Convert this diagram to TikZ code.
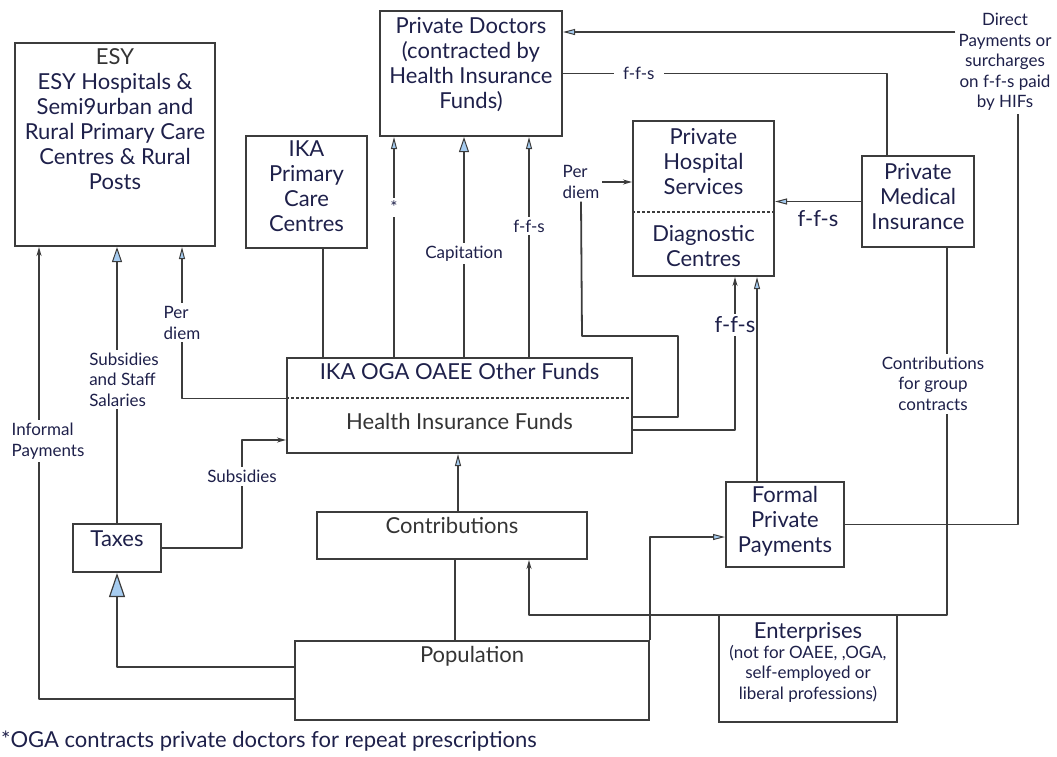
\documentclass[tikz,border=0pt]{standalone}
\usepackage{fontspec}
\setmainfont{Lato}
\usepackage{tikz}
\usetikzlibrary{arrows.meta, positioning}
\usepackage{xcolor}
\definecolor{Ink}{RGB}{30, 32, 74}
\definecolor{Heading}{RGB}{52, 52, 52}
\definecolor{Wire}{RGB}{60, 60, 60}
\definecolor{LiteBlue}{RGB}{166, 204, 240}
\newcommand{\boxfont}{\fontsize{22}{25}\selectfont}
\newcommand{\notefont}{\fontsize{17}{20.5}\selectfont}
\tikzset{%
  panel/.style={%
    rectangle,%
    draw=Wire,%
    line width=2pt,%
    inner sep=0pt,%
  },
  panel_text/.style={%
    color=Ink,%
    font={\boxfont},%
    align=center,%
    inner sep=1pt,%
  },
  panel_title/.style={%
    panel_text,%
    color=Heading,%
  },
  note/.style={%
    color=Ink,%
    font={\notefont},%
    align=center,%
    fill=white,%
    inner sep=3pt,%
  },
  big_note/.style={%
    note,%
    font={\boxfont},%
  },
  wire/.style={%
    color=Wire,%
    line width=1.8pt,%
    line join=round,%
  },
  divider/.style={%
    color=Wire,%
    line width=1.2pt,%
    dash pattern=on 3pt off 2pt,%
  },
  blue_tip/.style={-{Triangle[length=12pt, width=6pt, fill=LiteBlue, line width=1pt]}},
  wide_tip/.style={-{Triangle[length=15pt, width=10pt, fill=LiteBlue, line width=1pt]}},
  big_tip/.style={-{Triangle[length=24pt, width=16pt, fill=LiteBlue, line width=1.2pt]}},
  dark_tip/.style={-{Stealth[length=9pt, width=5pt]}},
}

\begin{document}
\begin{tikzpicture}[x=1pt, y=-1pt]

    \useasboundingbox (0, 0) rectangle (1057, 756);

    \node [panel, minimum width=200pt, minimum height=203pt] (ESY) at (115, 144.5) {};
    \node [panel, minimum width=121pt, minimum height=112pt] (IKAcare) at (306.5, 192) {};
    \node [panel, minimum width=182pt, minimum height=125pt] (Doctors) at (471, 73.5) {};
    \node [panel, minimum width=141pt, minimum height=155pt] (Hospital) at (703.5, 198.5) {};
    \node [panel, minimum width=112pt, minimum height=91pt] (MedIns) at (918, 201.5) {};
    \node [panel, minimum width=345pt, minimum height=95pt] (Funds) at (459.5, 405.5) {};
    \node [panel, minimum width=270pt, minimum height=47pt] (Contrib) at (452, 535.5) {};
    \node [panel, minimum width=354pt, minimum height=79pt] (Population) at (472, 680.5) {};
    \node [panel, minimum width=88pt, minimum height=48pt] (Taxes) at (117, 548) {};
    \node [panel, minimum width=118pt, minimum height=85pt] (Formal) at (785, 524.5) {};
    \node [panel, minimum width=178pt, minimum height=107pt] (Enterprises) at (808, 668.5) {};

    \node [panel_text, below = 5pt of ESY.north] (ESYtext)
      {\textcolor{Heading}{ESY}\\ESY Hospitals \&\\Semi9urban and\\Rural Primary Care\\Centres \& Rural\\Posts};
    \node [panel_text, below = 5pt of IKAcare.north] (IKAcareText) {IKA\\Primary\\Care\\Centres};
    \node [panel_text, below = 6pt of Doctors.north] (DoctorsText)
      {Private Doctors\\(contracted by\\Health Insurance\\Funds)};
    \node [panel_text, below = 7pt of Hospital.north] (HospitalText) {Private\\Hospital\\Services};
    \node [panel_text, below = 104pt of Hospital.north] (DiagnosticText) {Diagnostic\\Centres};
    \node [panel_text, below = 7pt of MedIns.north] (MedInsText) {Private\\Medical\\Insurance};
    \node [panel_text, below = 5pt of Funds.north] (FundsTop) {IKA OGA OAEE Other Funds};
    \node [panel_title, below = 55pt of Funds.north] (FundsText) {Health Insurance Funds};
    \node [panel_title, below = 5pt of Contrib.north] (ContribText) {Contributions};
    \node [panel_title, below = 5pt of Population.north] (PopulationText) {Population};
    \node [panel_text, below = 7pt of Taxes.north] (TaxesText) {Taxes};
    \node [panel_text, below = 4pt of Formal.north] (FormalText) {Formal\\Private\\Payments};
    \node [panel_text, below = 7pt of Enterprises.north] (EnterprisesText) {Enterprises};
    \node [note, fill=none, inner sep=1pt, below = 30pt of Enterprises.north] (EnterprisesNote)
      {(not for OAEE, ,OGA,\\self-employed or\\liberal professions)};

    \draw [divider] ([yshift=7.5pt]Funds.west) -- ([yshift=7.5pt]Funds.east);
    \draw [divider] ([yshift=-13.5pt]Hospital.west) -- ([yshift=-13.5pt]Hospital.east);

    \coordinate (PopLow) at ([yshift=-18.5pt]Population.west);
    \coordinate (PopTax) at ([yshift=13.5pt]Population.west);
    \coordinate (ESYinformal) at ([xshift=25pt]ESY.south west);
    \coordinate (ESYperdiem) at ([xshift=168pt]ESY.south west);
    \coordinate (FundsUp) at ([yshift=7pt]Funds.west);
    \coordinate (FundsIn) at ([yshift=-34.5pt]Funds.west);
    \coordinate (CareLink) at ([xshift=16.5pt]IKAcare.south);
    \coordinate (DocStar) at ([xshift=15pt]Doctors.south west);
    \coordinate (DocCap) at ([xshift=-7pt]Doctors.south);
    \coordinate (DocFfs) at ([xshift=-34pt]Doctors.south east);
    \coordinate (DirectY) at ([yshift=41.5pt]Doctors.east);
    \coordinate (InsTop) at ([xshift=-31pt]MedIns.north);
    \coordinate (GroupTop) at ([xshift=29pt]MedIns.south);
    \coordinate (GroupCorner) at ([xshift=77pt, yshift=-55pt]Contrib.south);
    \coordinate (PopLink) at ([xshift=3pt]Contrib.south);
    \coordinate (ContribTop) at ([xshift=6pt]Contrib.north);
    \coordinate (FormalIn) at ([yshift=-12.5pt]Formal.west);
    \coordinate (FormalTop) at ([xshift=-28pt]Formal.north);

    \node [note, align=left] (PerDiemB) at (581, 182) {Per\\diem};
    \node [big_note] (FfsDiag) at (735, 325) {f-f-s};
    \node [note] (DirectPay) at (1005, 62)
      {Direct\\Payments or\\surcharges\\on f-f-s paid\\by HIFs};

    \draw [wire, dark_tip]
      (PopLow)
      -|
      node [pos=0.785, note, align=left, xshift=9pt] (InformalNote) {Informal\\Payments}
      (ESYinformal);
    \draw [wire, wide_tip]
      (Taxes.north)
      --
      (Taxes.north |- ESY.south)
      node [pos=0.52, note, align=left, xshift=7pt] (StaffNote) {Subsidies\\and Staff\\Salaries};
    \draw [wire, blue_tip]
      (FundsUp)
      -|
      node [pos=0.75, note, align=left] (PerDiemA) {Per\\diem}
      (ESYperdiem);
    \draw [wire, big_tip]
      (PopTax)
      -|
      (Taxes.south);
    \draw [wire, dark_tip]
      (Taxes.east)
      -- ++(80, 0)
      |-
      node [pos=0.33, note] (SubsNote) {Subsidies}
      (FundsIn);
    \draw [wire, line width=2.4pt]
      (CareLink |- Funds.north)
      --
      (CareLink);

    \draw [wire, blue_tip]
      (DocStar |- Funds.north)
      --
      (DocStar)
      node [pos=0.68, note] (StarNote) {*};
    \draw [wire, wide_tip]
      (DocCap |- Funds.north)
      --
      (DocCap)
      node [pos=0.47, note] (CapNote) {Capitation};
    \draw [wire, blue_tip]
      (DocFfs |- Funds.north)
      --
      (DocFfs)
      node [pos=0.595, note] (FfsNote) {f-f-s};

    \draw [wire]
      ([yshift=-11.5pt]Funds.east)
      -- ++(45, 0)
      -- ++(0, -81)
      -- ++(-96, 0)
      --
      (PerDiemB.south);
    \draw [wire, dark_tip]
      (PerDiemB.east)
      --
      (PerDiemB.east -| Hospital.west);
    \draw [wire]
      ([yshift=-24.5pt]Funds.east)
      -|
      (FfsDiag.south);
    \draw [wire, dark_tip]
      (FfsDiag.north)
      --
      (FfsDiag.north |- Hospital.south);
    \draw [wire, blue_tip]
      (FormalTop)
      --
      (FormalTop |- Hospital.south);
    \draw [wire, blue_tip]
      (MedIns.west)
      --
      (MedIns.west -| Hospital.east)
      node [midway, big_note, below = 5pt] (FfsIns) {f-f-s};

    \draw [wire]
      (InsTop)
      |-
      node [pos=0.883, note, inner xsep=9pt] (FfsTop) {f-f-s}
      (Doctors.east);
    \draw [wire, blue_tip]
      (DirectY -| DirectPay.west)
      --
      (DirectY);
    \draw [wire]
      (Formal.east)
      -|
      ([xshift=13pt]DirectPay.south);

    \draw [wire, dark_tip]
      (GroupTop)
      |-
      node [pos=0.185, note, xshift=-14pt] (GroupNote) {Contributions\\for group\\contracts}
      (GroupCorner)
      --
      (GroupCorner |- Contrib.south);
    \draw [wire]
      (PopLink |- Population.north)
      --
      (PopLink);
    \draw [wire, blue_tip]
      (ContribTop)
      --
      (ContribTop |- Funds.south);
    \draw [wire, blue_tip]
      (Population.north east)
      |-
      (FormalIn);

    \node [panel_text, anchor=west] (Footnote) at (0, 741)
      {*OGA contracts private doctors for repeat prescriptions};

  \end{tikzpicture}
\end{document}
